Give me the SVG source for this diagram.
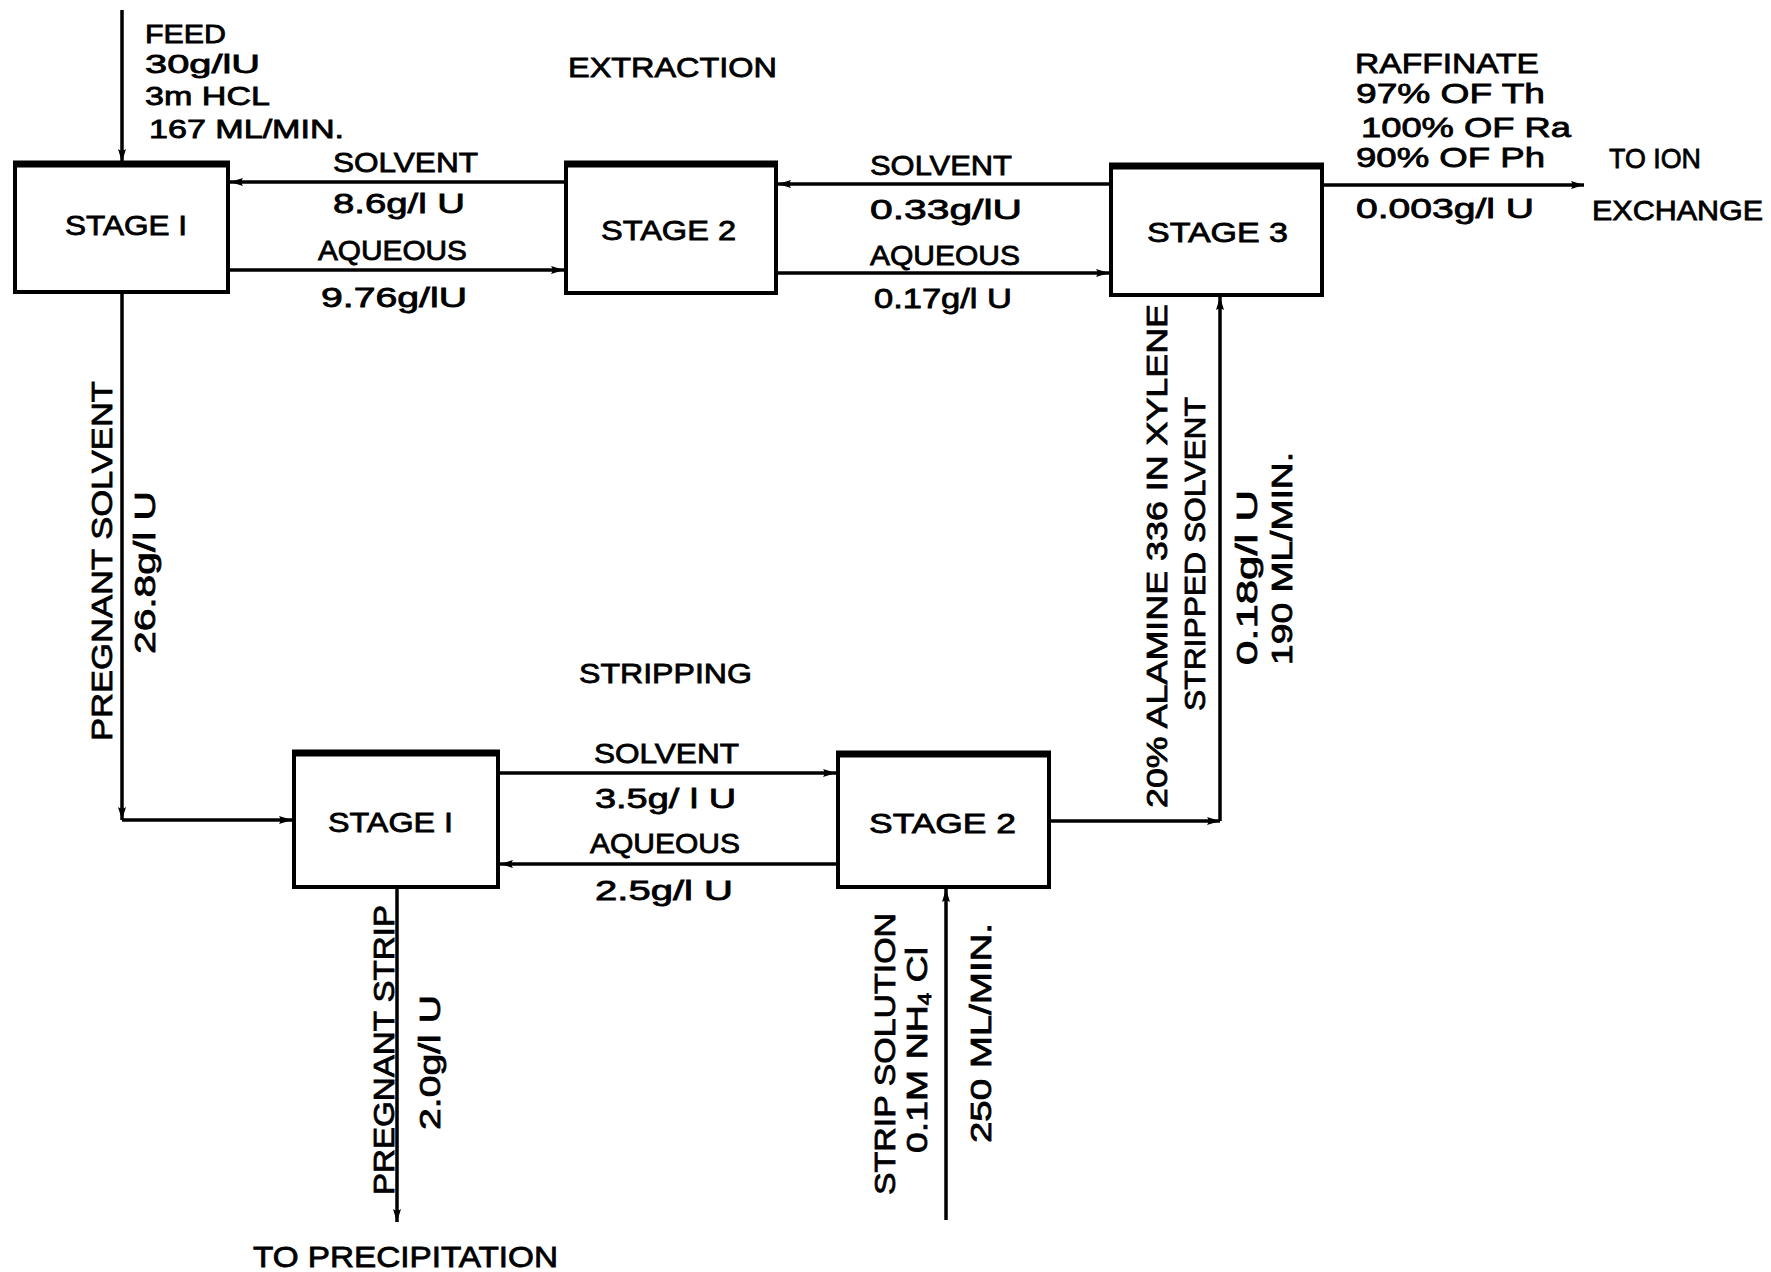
<svg xmlns="http://www.w3.org/2000/svg" width="1771" height="1272" viewBox="0 0 1771 1272">
<style>
.t{font-family:"Liberation Sans",Arial,sans-serif;font-size:28px;fill:#000;stroke:#000;stroke-width:0.8}
.s{font-size:26px}
.v{font-size:30px}
.box{fill:#fff;stroke:#000;stroke-width:4}
.top{stroke:#000;stroke-width:7}
.ln{fill:none;stroke:#000;stroke-width:3.5}
</style>
<defs>
<marker id="ah" markerUnits="userSpaceOnUse" markerWidth="14" markerHeight="10" refX="13" refY="5" orient="auto">
<path d="M0,1 L13,5 L0,9 Q3,5 0,1 z" fill="#000"/>
</marker>
</defs>
<rect width="1771" height="1272" fill="#fff"/>

<g id="connectors">
<path class="ln" d="M122,10 V162" marker-end="url(#ah)"/>
<path class="ln" d="M566,182 H230" marker-end="url(#ah)"/>
<path class="ln" d="M228,270 H564" marker-end="url(#ah)"/>
<path class="ln" d="M1111,184 H778" marker-end="url(#ah)"/>
<path class="ln" d="M776,273 H1109" marker-end="url(#ah)"/>
<path class="ln" d="M1322,185 H1584" marker-end="url(#ah)"/>
<path class="ln" d="M122,292 V820" marker-end="url(#ah)"/>
<path class="ln" d="M122,820 H292" marker-end="url(#ah)"/>
<path class="ln" d="M498,773 H836" marker-end="url(#ah)"/>
<path class="ln" d="M838,864 H500" marker-end="url(#ah)"/>
<path class="ln" d="M1049,821 H1220" marker-end="url(#ah)"/>
<path class="ln" d="M1220,821 V297" marker-end="url(#ah)"/>
<path class="ln" d="M397,887 V1222" marker-end="url(#ah)"/>
<path class="ln" d="M946,1220 V889" marker-end="url(#ah)"/>
</g>

<g id="ext-stage1">
<rect class="box" x="15" y="164" width="213" height="128"/>
<line class="top" x1="13" y1="164" x2="230" y2="164"/>
<text class="t" x="65" y="235" textLength="122" lengthAdjust="spacingAndGlyphs">STAGE I</text>
</g>
<g id="ext-stage2">
<rect class="box" x="566" y="164" width="210" height="129"/>
<line class="top" x1="564" y1="164" x2="778" y2="164"/>
<text class="t" x="601" y="240" textLength="135" lengthAdjust="spacingAndGlyphs">STAGE 2</text>
</g>
<g id="ext-stage3">
<rect class="box" x="1111" y="166" width="211" height="129"/>
<line class="top" x1="1109" y1="166" x2="1324" y2="166"/>
<text class="t" x="1147" y="242" textLength="141" lengthAdjust="spacingAndGlyphs">STAGE 3</text>
</g>
<g id="strip-stage1">
<rect class="box" x="294" y="753" width="204" height="134"/>
<line class="top" x1="292" y1="753" x2="500" y2="753"/>
<text class="t" x="328" y="832" textLength="125" lengthAdjust="spacingAndGlyphs">STAGE I</text>
</g>
<g id="strip-stage2">
<rect class="box" x="838" y="754" width="211" height="133"/>
<line class="top" x1="836" y1="754" x2="1051" y2="754"/>
<text class="t" x="869" y="833" textLength="147" lengthAdjust="spacingAndGlyphs">STAGE 2</text>
</g>

<g id="labels">
<text class="t s" x="145" y="43" textLength="81" lengthAdjust="spacingAndGlyphs">FEED</text>
<text class="t s" x="145" y="73" textLength="115" lengthAdjust="spacingAndGlyphs">30g/lU</text>
<text class="t s" x="145" y="105" textLength="125" lengthAdjust="spacingAndGlyphs">3m HCL</text>
<text class="t s" x="149" y="138" textLength="195" lengthAdjust="spacingAndGlyphs">167 ML/MIN.</text>
<text class="t" x="568" y="77" textLength="209" lengthAdjust="spacingAndGlyphs">EXTRACTION</text>

<text class="t" x="333" y="172" textLength="145" lengthAdjust="spacingAndGlyphs">SOLVENT</text>
<text class="t" x="333" y="213" textLength="132" lengthAdjust="spacingAndGlyphs">8.6g/l U</text>
<text class="t" x="318" y="260" textLength="149" lengthAdjust="spacingAndGlyphs">AQUEOUS</text>
<text class="t" x="321" y="307" textLength="146" lengthAdjust="spacingAndGlyphs">9.76g/lU</text>

<text class="t" x="870" y="175" textLength="142" lengthAdjust="spacingAndGlyphs">SOLVENT</text>
<text class="t" x="870" y="219" textLength="152" lengthAdjust="spacingAndGlyphs">0.33g/lU</text>
<text class="t" x="870" y="265" textLength="150" lengthAdjust="spacingAndGlyphs">AQUEOUS</text>
<text class="t" x="874" y="308" textLength="138" lengthAdjust="spacingAndGlyphs">0.17g/l U</text>

<text class="t" x="1355" y="73" textLength="184" lengthAdjust="spacingAndGlyphs">RAFFINATE</text>
<text class="t" x="1356" y="103" textLength="189" lengthAdjust="spacingAndGlyphs">97% OF Th</text>
<text class="t" x="1361" y="137" textLength="210" lengthAdjust="spacingAndGlyphs">100% OF Ra</text>
<text class="t" x="1356" y="167" textLength="189" lengthAdjust="spacingAndGlyphs">90% OF Ph</text>
<text class="t" x="1356" y="218" textLength="178" lengthAdjust="spacingAndGlyphs">0.003g/l U</text>
<text class="t" x="1609" y="168" textLength="92" lengthAdjust="spacingAndGlyphs">TO ION</text>
<text class="t" x="1592" y="220" textLength="171" lengthAdjust="spacingAndGlyphs">EXCHANGE</text>

<text class="t v" transform="translate(112,741) rotate(-90)" textLength="360" lengthAdjust="spacingAndGlyphs">PREGNANT SOLVENT</text>
<text class="t v" transform="translate(155,654) rotate(-90)" textLength="163" lengthAdjust="spacingAndGlyphs">26.8g/l U</text>

<text class="t v" transform="translate(1167,808) rotate(-90)" textLength="504" lengthAdjust="spacingAndGlyphs">20% ALAMINE 336 IN XYLENE</text>
<text class="t v" transform="translate(1205,711) rotate(-90)" textLength="314" lengthAdjust="spacingAndGlyphs">STRIPPED SOLVENT</text>
<text class="t v" transform="translate(1257,665) rotate(-90)" textLength="175" lengthAdjust="spacingAndGlyphs">0.18g/l U</text>
<text class="t v" transform="translate(1292,665) rotate(-90)" textLength="213" lengthAdjust="spacingAndGlyphs">190 ML/MIN.</text>

<text class="t" x="579" y="683" textLength="173" lengthAdjust="spacingAndGlyphs">STRIPPING</text>
<text class="t" x="594" y="763" textLength="145" lengthAdjust="spacingAndGlyphs">SOLVENT</text>
<text class="t" x="595" y="808" textLength="141" lengthAdjust="spacingAndGlyphs">3.5g/ l U</text>
<text class="t" x="590" y="853" textLength="150" lengthAdjust="spacingAndGlyphs">AQUEOUS</text>
<text class="t" x="595" y="900" textLength="138" lengthAdjust="spacingAndGlyphs">2.5g/l U</text>

<text class="t v" transform="translate(394,1195) rotate(-90)" textLength="290" lengthAdjust="spacingAndGlyphs">PREGNANT STRIP</text>
<text class="t v" transform="translate(440,1130) rotate(-90)" textLength="135" lengthAdjust="spacingAndGlyphs">2.0g/l U</text>
<text class="t v" transform="translate(895,1195) rotate(-90)" textLength="282" lengthAdjust="spacingAndGlyphs">STRIP SOLUTION</text>
<text class="t v" transform="translate(927,1153) rotate(-90)" textLength="206" lengthAdjust="spacingAndGlyphs">0.1M NH<tspan font-size="18" dy="4">4</tspan><tspan dy="-4"> Cl</tspan></text>
<text class="t v" transform="translate(991,1143) rotate(-90)" textLength="220" lengthAdjust="spacingAndGlyphs">250 ML/MIN.</text>
<text class="t v" x="253" y="1267" textLength="305" lengthAdjust="spacingAndGlyphs">TO PRECIPITATION</text>
</g>
</svg>
